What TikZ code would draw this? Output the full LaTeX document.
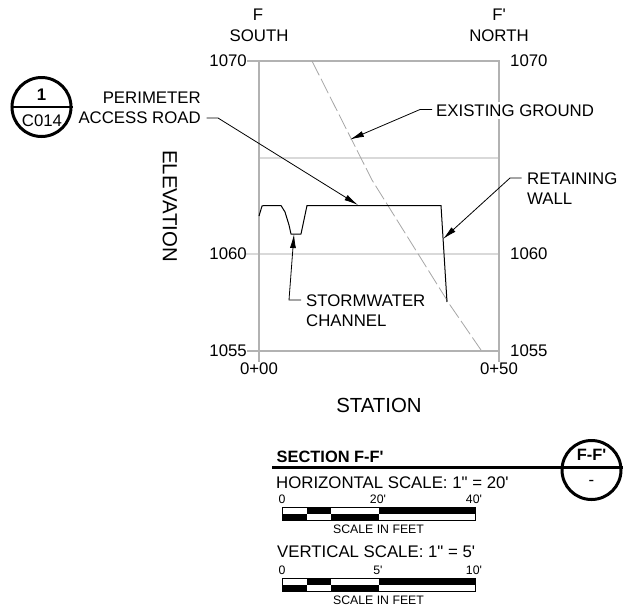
\documentclass[tikz,border=0pt]{standalone}
\usepackage{fontspec}
\setmainfont[Ligatures=TeXOff]{Liberation Sans}
\usetikzlibrary{arrows.meta}

\tikzset{
  label14/.style = {inner sep = 0pt, font = \fontsize{16.8}{20}\selectfont},
  label20/.style = {inner sep = 0pt, font = \fontsize{20.4}{24}\selectfont},
  label10/.style = {inner sep = 0pt, font = \fontsize{12.3}{14}\selectfont},
  leader/.style = {draw = black, line width = 0.8pt, -{Latex[length = 14pt, width = 6pt]}},
  gridline/.style = {draw = black!15, line width = 1.1pt},
  frameline/.style = {draw = black!30, line width = 1.1pt},
  bubble/.style = {circle, draw = black, line width = 3pt, minimum size = 59pt, inner sep = 0pt}
}

\begin{document}
\begin{tikzpicture}[x = 1pt, y = -1pt]
  \useasboundingbox (0,0) rectangle (637,614);

  % grid of the section
  \coordinate (topleft) at (259,61);
  \coordinate (topright) at (499,61);
  \coordinate (botleft) at (259,351);
  \coordinate (botright) at (499,351);
  \coordinate (midleft) at (246,254);
  \coordinate (midright) at (499,254);
  \coordinate (upleft) at (259,158);
  \coordinate (upright) at (499,158);
  \path[gridline] (upleft) -- (upright);
  \path[gridline] (midleft) -- (midright);
  \path[frameline] (247,61) -- (topleft) -- (topright) -- (499,362);
  \path[frameline] (topleft) -- (259,362);
  \path[frameline] (247,351) -- (botright);

  % existing ground and section line
  \draw[black!35, line width = 0.8pt, dash pattern = on 16pt off 4pt]
    (312,61) -- (372,180) -- (450,305) -- (481,350);
  \draw[black, line width = 1pt, line join = round]
    (259,216) -- (262,206) -- (264,205.5) -- (281,205.5) -- (285,212) -- (289,225)
    -- (291,234) -- (301,234) -- (307,205.5) -- (441,205.5) -- (447,302);

  % axis labels
  \node[label14] (f) at (258,15) {F};
  \node[label14] (south) at (259,36) {SOUTH};
  \node[label14] (fprime) at (499,15) {F'};
  \node[label14] (north) at (499,36) {NORTH};
  \node[label14, anchor = east] (top1) at (247,61) {1070};
  \node[label14, anchor = east] (mid1) at (247,254) {1060};
  \node[label14, anchor = east] (bot1) at (247,351) {1055};
  \node[label14, anchor = west] (top2) at (510,61) {1070};
  \node[label14, anchor = west] (mid2) at (510,254) {1060};
  \node[label14, anchor = west] (bot2) at (510,351) {1055};
  \node[label14] (sta1) at (259,369) {0+00};
  \node[label14] (sta2) at (499,369) {0+50};
  \node[label20] (station) at (379,405.5) {STATION};
  \node[label20, rotate = -90] (elevation) at (170,206) {ELEVATION};

  % callouts
  \node[label14, align = right, anchor = east] (road) at (201,108) {PERIMETER\\ACCESS ROAD};
  \node[label14, fill = white, anchor = west, inner ysep = 3pt] (ground) at (436,110.5) {EXISTING GROUND};
  \node[label14, align = left, anchor = west] (wall) at (527,189) {RETAINING\\WALL};
  \node[label14, align = left, anchor = west] (channel) at (306,311) {STORMWATER\\CHANNEL};
  \coordinate (roadtip) at (358,205);
  \coordinate (groundtip) at (350,139.5);
  \coordinate (walltip) at (443,239);
  \coordinate (channeltip) at (294,234);
  \draw[leader] (206.5,118) -- (218,118) -- (roadtip);
  \draw[leader] (432,109.5) -- (420,109.5) -- (groundtip);
  \draw[leader] (521.5,178) -- (510,178) -- (walltip);
  \draw[leader] (301,300) -- (289,300) -- (channeltip);

  % detail bubble
  \node[bubble] (detail) at (41.5,107) {};
  \draw[line width = 2.5pt] (detail.west) -- (detail.east);
  \node[label14, font = \fontsize{16.8}{20}\selectfont\bfseries] (detailnum) at (41.5,95) {1};
  \node[label14] (detailsheet) at (42,120.5) {C014};

  % title
  \node[bubble] (section) at (591.5,470) {};
  \node[label14, font = \fontsize{16.4}{20}\selectfont\bfseries] (sectionnum) at (591.5,455) {F-F'};
  \node[label14] (sectionsheet) at (591.5,482.5) {-};
  \coordinate (titlestart) at (272,467);
  \draw[line width = 3pt] (titlestart) -- (section.east |- titlestart);
  \node[label14, font = \fontsize{16.4}{20}\selectfont\bfseries, anchor = west] (title) at (276.5,457) {SECTION F-F'};

  % scale bars
  \node[label14, anchor = west] (hscale) at (276,482.5) {HORIZONTAL SCALE: 1" = 20'};
  \node[label14, anchor = west] (vscale) at (277,552) {VERTICAL SCALE: 1" = 5'};
  \foreach \name/\ytop/\lone/\ltwo/\lthree in {h/507.5/0/20'/40', v/578.5/0/5'/10'} {
    \fill (306.5,\ytop) rectangle (331,\ytop + 6.5);
    \fill (378.5,\ytop) rectangle (475,\ytop + 6.5);
    \fill (282.5,\ytop + 6.5) rectangle (306.5,\ytop + 13);
    \fill (331,\ytop + 6.5) rectangle (378.5,\ytop + 13);
    \draw[line width = 0.7pt] (282.5,\ytop) rectangle (475,\ytop + 13);
    \node[label10] (\name one) at (282,\ytop - 8.5) {\lone};
    \node[label10] (\name two) at (378,\ytop - 8.5) {\ltwo};
    \node[label10] (\name three) at (474,\ytop - 8.5) {\lthree};
    \node[label10] (\name feet) at (378.5,\ytop + 21.5) {SCALE IN FEET};
  }
\end{tikzpicture}
\end{document}
